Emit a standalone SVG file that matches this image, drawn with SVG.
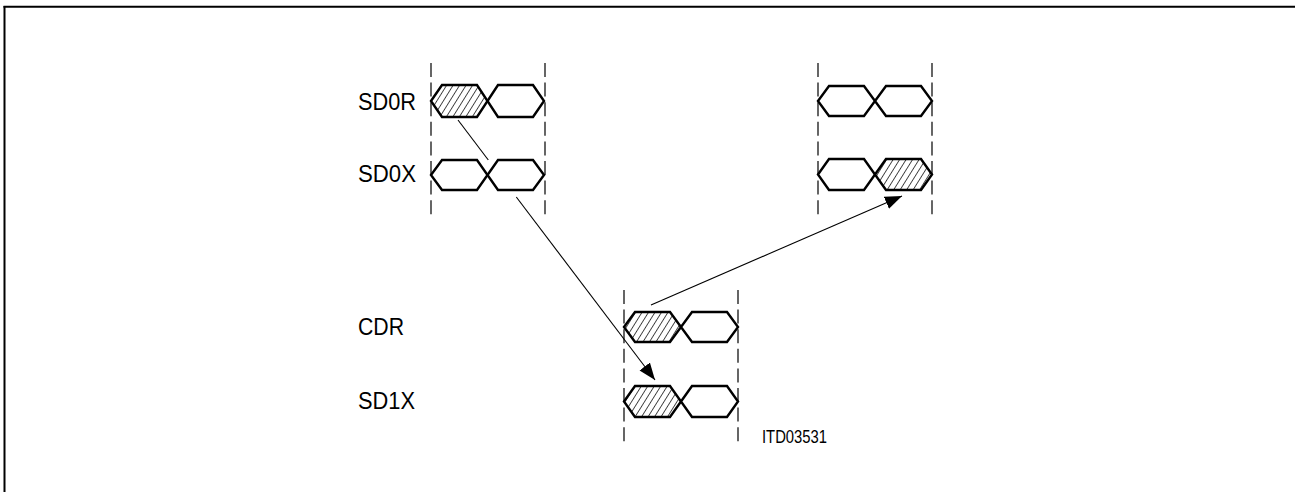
<svg xmlns="http://www.w3.org/2000/svg" width="1295" height="492" viewBox="0 0 1295 492">
<style>
.frame{stroke:#000;stroke-width:2;fill:none}
.guide{stroke:#000;stroke-width:1.2;stroke-dasharray:14 5.6;fill:none}
.cell{stroke:#000;stroke-width:2.4;fill:#fff;stroke-linejoin:miter}
.hatch{stroke:#000;stroke-width:2.4;fill:url(#hatch)}
.lbl{font-family:"Liberation Sans",Arial,sans-serif;font-size:24px;fill:#000}
.id{font-family:"Liberation Sans",Arial,sans-serif;font-size:18px;fill:#000}
.conn{stroke:#000;stroke-width:1.1;fill:none}
</style>
<defs>
<pattern id="hatch" patternUnits="userSpaceOnUse" width="5.5" height="10" patternTransform="rotate(32)">
<rect width="5.5" height="10" fill="#fff"/>
<line x1="0" y1="0" x2="0" y2="10" stroke="#000" stroke-width="1.4"/>
</pattern>
<marker id="ah" markerUnits="userSpaceOnUse" markerWidth="18" markerHeight="14" refX="17" refY="6.5" orient="auto">
<path d="M0,0 L17,6.5 L0,13 z" fill="#000"/>
</marker>
</defs>
<g id="frame">
<line class="frame" x1="3.5" y1="6.7" x2="1295" y2="6.7"/>
<line class="frame" x1="4.5" y1="6" x2="4.5" y2="492"/>
</g>
<g id="node-SD0R">
<text class="lbl" x="358" y="110" textLength="58" lengthAdjust="spacingAndGlyphs">SD0R</text>
<polygon class="hatch" points="431,101 442,85 477,85 487.5,101 477,117 442,117"/>
<polygon class="cell" points="487.5,101 498,85 533,85 544,101 533,117 498,117"/>
</g>
<g id="node-SD0X">
<text class="lbl" x="358" y="182" textLength="58" lengthAdjust="spacingAndGlyphs">SD0X</text>
<polygon class="cell" points="431,175 442,160 477,160 487.5,175 477,190 442,190"/>
<polygon class="cell" points="487.5,175 498,160 533,160 544,175 533,190 498,190"/>
</g>
<g id="guides-left">
<line class="guide" x1="431" y1="63" x2="431" y2="217"/>
<line class="guide" x1="545" y1="63" x2="545" y2="217"/>
</g>
<g id="node-SD0R-right">
<polygon class="cell" points="818,101 829,86 864,86 875,101 864,116 829,116"/>
<polygon class="cell" points="875,101 886,86 921,86 932,101 921,116 886,116"/>
</g>
<g id="node-SD0X-right">
<polygon class="cell" points="818,174.5 829,159 864,159 875,174.5 864,190 829,190"/>
<polygon class="hatch" points="875,174.5 886,159 921,159 932,174.5 921,190 886,190"/>
</g>
<g id="guides-right">
<line class="guide" x1="818" y1="63" x2="818" y2="217"/>
<line class="guide" x1="932" y1="63" x2="932" y2="217"/>
</g>
<g id="node-CDR">
<text class="lbl" x="358" y="335" textLength="46" lengthAdjust="spacingAndGlyphs">CDR</text>
<polygon class="hatch" points="624,327 635,312 670,312 681,327 670,342 635,342"/>
<polygon class="cell" points="681,327 692,312 727,312 738,327 727,342 692,342"/>
</g>
<g id="node-SD1X">
<text class="lbl" x="358" y="409" textLength="57" lengthAdjust="spacingAndGlyphs">SD1X</text>
<polygon class="hatch" points="624,401.5 635,386 670,386 681,401.5 670,417 635,417"/>
<polygon class="cell" points="681,401.5 692,386 727,386 738,401.5 727,417 692,417"/>
</g>
<g id="guides-center">
<line class="guide" x1="624" y1="290" x2="624" y2="442"/>
<line class="guide" x1="738" y1="290" x2="738" y2="442"/>
</g>
<text class="id" x="762" y="443" textLength="65" lengthAdjust="spacingAndGlyphs">ITD03531</text>
<g id="connectors">
<line class="conn" x1="458" y1="120" x2="488.3" y2="160"/>
<line class="conn" x1="516.3" y1="197" x2="655" y2="380" marker-end="url(#ah)"/>
<line class="conn" x1="651" y1="305" x2="902" y2="196" marker-end="url(#ah)"/>
</g>
</svg>
